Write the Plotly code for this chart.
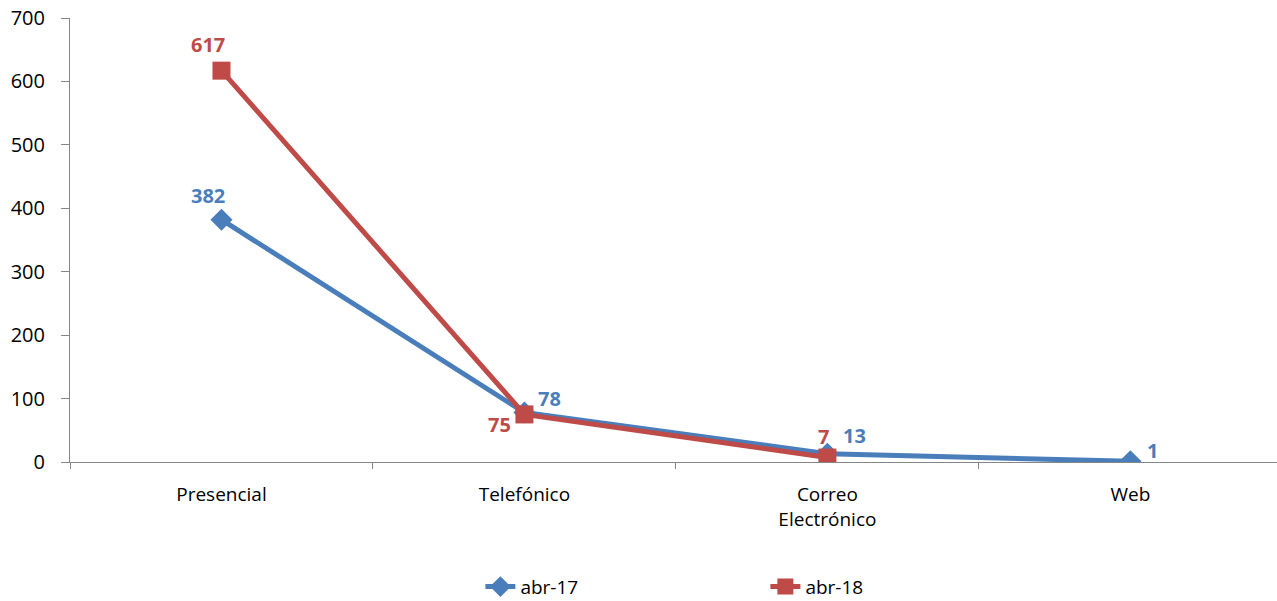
import plotly.graph_objects as go

categories = ["Presencial", "Telefónico", "Correo<br>Electrónico", "Web"]
abr17 = [382, 78, 13, 1]
abr18 = [617, 75, 7, None]

BLUE = "#4A7EBB"
RED = "#BE4B48"
FONT = "Open Sans, Noto Sans, sans-serif"

fig = go.Figure()
fig.add_trace(go.Scatter(
    x=categories, y=abr17, name="abr-17", mode="lines+markers",
    line=dict(color=BLUE, width=5),
    marker=dict(symbol="diamond", size=17, color=BLUE),
))
fig.add_trace(go.Scatter(
    x=categories, y=abr18, name="abr-18", mode="lines+markers",
    line=dict(color=RED, width=5),
    marker=dict(symbol="square", size=18, color=RED),
))

# data labels: (series values, colour, per-point pixel offsets)
label_specs = [
    (abr17, BLUE, [(-13, 24), (25, 14), (27, 18), (22, 11)]),
    (abr18, RED, [(-13, 26), (-25, -10), (-4, 21), None]),
]
for values, color, offsets in label_specs:
    for cat, val, off in zip(categories, values, offsets):
        if val is None or off is None:
            continue
        fig.add_annotation(
            x=cat, y=val, text=f"<b>{val}</b>", showarrow=False,
            xshift=off[0], yshift=off[1],
            font=dict(family=FONT, size=20, color=color),
        )

fig.update_layout(
    width=1277, height=601,
    margin=dict(l=70, r=0, t=18, b=139, autoexpand=False),
    paper_bgcolor="white", plot_bgcolor="white",
    font=dict(family=FONT, size=19, color="#000000"),
    showlegend=True,
    legend=dict(
        orientation="h", x=0.34, xanchor="left", y=-0.281, yanchor="middle",
        font=dict(family=FONT, size=19, color="#000000"),
        entrywidth=240, entrywidthmode="pixels",
        borderwidth=0, bgcolor="rgba(0,0,0,0)",
    ),
)
fig.update_xaxes(
    type="category", range=[-0.5, 3.484], automargin=False,
    showline=True, linecolor="#868686", linewidth=1,
    ticks="outside", tickson="boundaries", ticklen=6, tickcolor="#868686",
    ticklabelstandoff=15,
    showgrid=False, zeroline=False,
    tickfont=dict(family=FONT, size=19, color="#000000"),
)
fig.update_yaxes(
    range=[0, 700], dtick=100, automargin=False,
    showline=True, linecolor="#868686", linewidth=1,
    ticks="outside", ticklen=8, tickcolor="#868686",
    ticklabelstandoff=12,
    showgrid=False, zeroline=False,
    tickfont=dict(family=FONT, size=20, color="#000000"),
)

fig.write_html("out.html")
